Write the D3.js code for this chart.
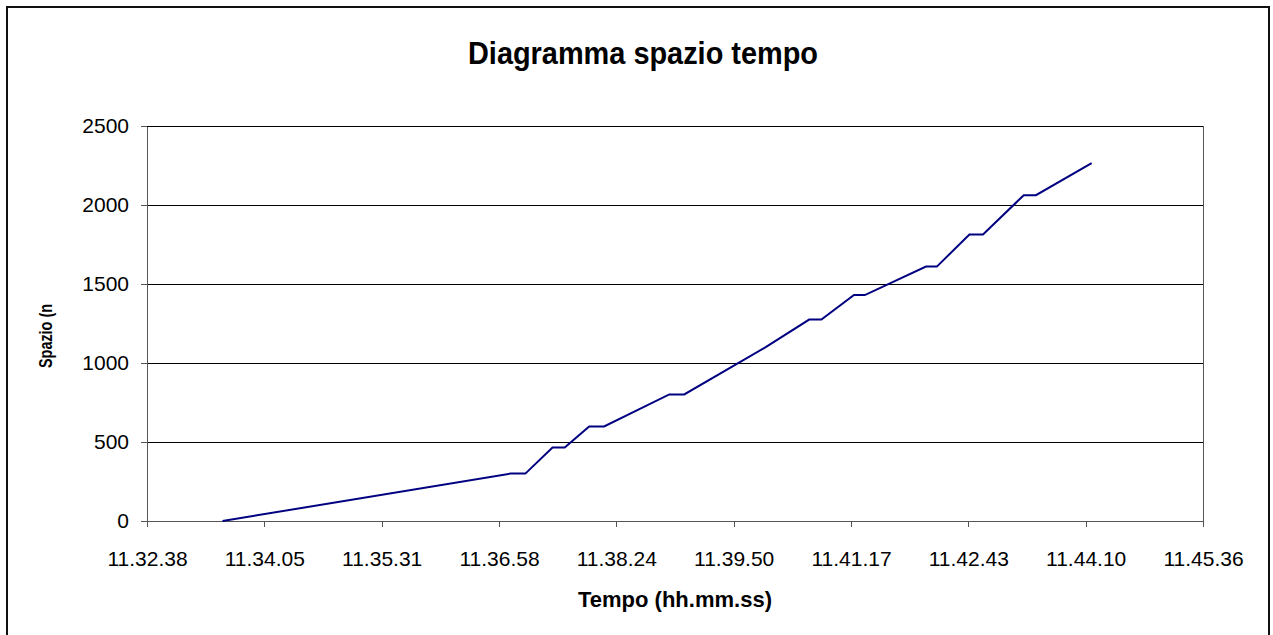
<!DOCTYPE html>
<html lang="it">
<head>
    <meta charset="UTF-8">
    <title>Diagramma spazio tempo</title>
    <style>
        body {
            margin: 0;
            padding: 0;
            background-color: #fff;
            font-family: "Liberation Sans", Arial, sans-serif;
        }

        #chart svg {
            display: block;
        }
    </style>
</head>
<body>

<div id="chart"></div>

<script src="https://d3js.org/d3.v7.min.js"></script>

<script>
    // tempi di passaggio (hh:mm:ss) e spazio percorso (m)
    const tempi = ["11:33:34", "11:37:06", "11:37:17", "11:37:37", "11:37:46", "11:38:04", "11:38:15",
        "11:39:03", "11:39:14", "11:40:14", "11:40:46", "11:40:55", "11:41:19", "11:41:27",
        "11:42:12", "11:42:20", "11:42:44", "11:42:54", "11:43:24", "11:43:33", "11:44:14"];
    const spazio = [0, 300, 300, 465, 465, 598, 598, 801, 801, 1100, 1275, 1275, 1430, 1430,
        1610, 1610, 1813, 1813, 2062, 2062, 2265];

    // asse x: da 0,481 a 0,490 giorni, passo 0,001 giorni (86,4 s)
    const xTickLabels = ["11.32.38", "11.34.05", "11.35.31", "11.36.58", "11.38.24",
        "11.39.50", "11.41.17", "11.42.43", "11.44.10", "11.45.36"];
    const yTicks = [0, 500, 1000, 1500, 2000, 2500];

    const daySec = 86400;
    const xStart = 0.481 * daySec;
    const xStep = 0.001 * daySec;

    const toSec = s => {
        const p = s.split(":").map(Number);
        return p[0] * 3600 + p[1] * 60 + p[2];
    };

    const data = tempi.map((t, i) => ({ t: toSec(t), s: spazio[i] }));

    const width = 1273, height = 635;
    const plot = { left: 147, right: 1203, top: 126, bottom: 521 };

    const svg = d3.select("#chart")
        .append("svg")
        .attr("width", width)
        .attr("height", height);

    // cornice esterna
    svg.append("rect")
        .attr("x", 7)
        .attr("y", 7)
        .attr("width", 1262)
        .attr("height", 640)
        .attr("fill", "none")
        .attr("stroke", "#111")
        .attr("stroke-width", 2);

    const x = d3.scaleLinear()
        .domain([xStart, xStart + xStep * (xTickLabels.length - 1)])
        .range([plot.left, plot.right]);

    const y = d3.scaleLinear()
        .domain([0, 2500])
        .range([plot.bottom, plot.top]);

    // griglia
    svg.append("g")
        .selectAll("line")
        .data(yTicks.filter(d => d > 0))
        .join("line")
        .attr("x1", plot.left)
        .attr("x2", plot.right)
        .attr("y1", d => y(d))
        .attr("y2", d => y(d))
        .attr("stroke", "#000")
        .attr("stroke-width", 1)
        .attr("shape-rendering", "crispEdges");

    // bordo destro dell'area
    svg.append("line")
        .attr("x1", plot.right)
        .attr("x2", plot.right)
        .attr("y1", plot.top)
        .attr("y2", plot.bottom)
        .attr("stroke", "#555")
        .attr("shape-rendering", "crispEdges");

    const xTickVals = xTickLabels.map((d, i) => xStart + i * xStep);

    const xAxis = svg.append("g")
        .attr("transform", "translate(0," + plot.bottom + ")")
        .call(d3.axisBottom(x)
            .tickValues(xTickVals)
            .tickFormat((d, i) => xTickLabels[i])
            .tickSize(6)
            .tickSizeOuter(0)
            .tickPadding(24));

    const yAxis = svg.append("g")
        .attr("transform", "translate(" + plot.left + ",0)")
        .call(d3.axisLeft(y)
            .tickValues(yTicks)
            .tickFormat(d3.format("d"))
            .tickSize(6)
            .tickSizeOuter(0)
            .tickPadding(12));

    [xAxis, yAxis].forEach(g => {
        g.select(".domain").attr("stroke", "#555").attr("shape-rendering", "crispEdges");
        g.selectAll(".tick line").attr("stroke", "#555").attr("shape-rendering", "crispEdges");
        g.selectAll(".tick text")
            .attr("fill", "#000")
            .style("font-family", "'Liberation Sans', Arial, sans-serif")
            .style("font-size", "21px");
    });

    // linea spazio-tempo
    const line = d3.line()
        .x(d => x(d.t))
        .y(d => y(d.s));

    svg.append("path")
        .datum(data)
        .attr("fill", "none")
        .attr("stroke", "#000080")
        .attr("stroke-width", 2)
        .attr("d", line);

    // titoli
    svg.append("text")
        .attr("x", 643)
        .attr("y", 64)
        .attr("text-anchor", "middle")
        .attr("textLength", 350)
        .attr("lengthAdjust", "spacingAndGlyphs")
        .style("font-size", "32px")
        .style("font-weight", "bold")
        .text("Diagramma spazio tempo");

    svg.append("text")
        .attr("x", 675)
        .attr("y", 607)
        .attr("text-anchor", "middle")
        .style("font-size", "22px")
        .style("font-weight", "bold")
        .text("Tempo (hh.mm.ss)");

    svg.append("text")
        .attr("transform", "translate(52,336) rotate(-90)")
        .attr("text-anchor", "middle")
        .attr("textLength", 64)
        .attr("lengthAdjust", "spacingAndGlyphs")
        .style("font-size", "19px")
        .style("font-weight", "bold")
        .text("Spazio (n");
</script>

</body>
</html>
